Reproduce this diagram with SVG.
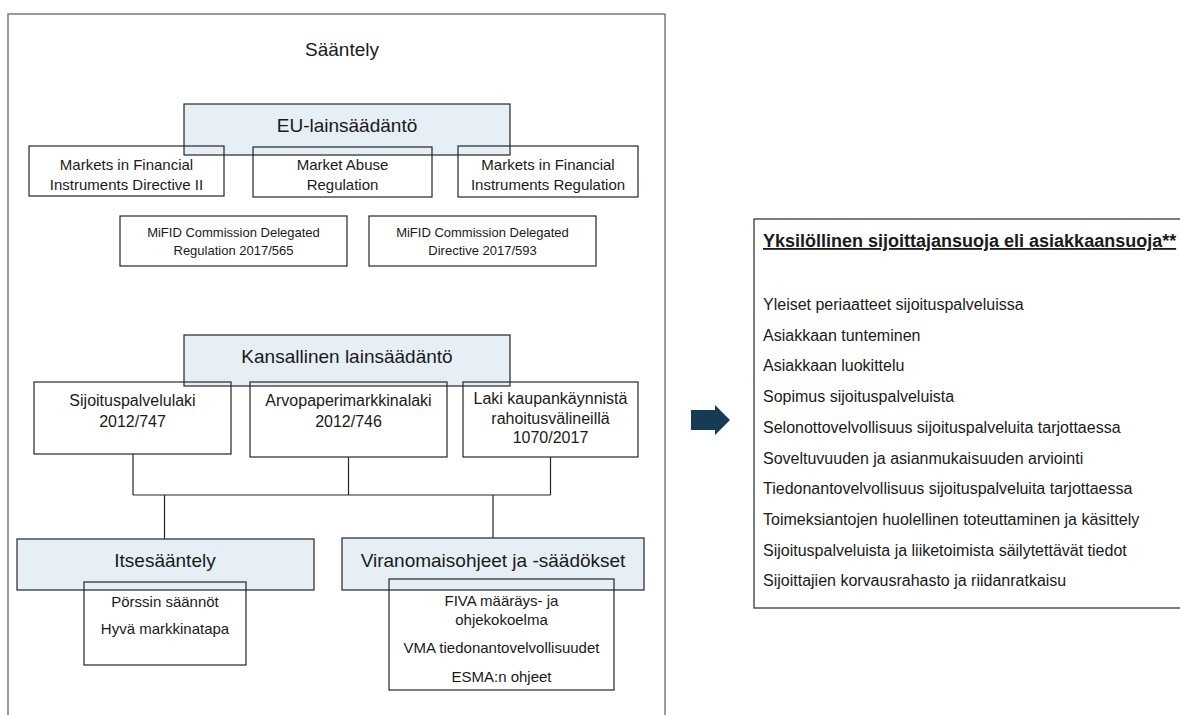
<svg xmlns="http://www.w3.org/2000/svg" width="1180" height="715" viewBox="0 0 1180 715">
  <style>
    text { font-family: "Liberation Sans", Arial, sans-serif; fill: #1a1a1a; }
    .frame { fill: #ffffff; stroke: #7a7a7a; stroke-width: 1.5; }
    .box { fill: none; stroke: #262626; stroke-width: 1.2; }
    .head { fill: #e6eef6; stroke: #262626; stroke-width: 1.2; }
    .wire { fill: none; stroke: #262626; stroke-width: 1.2; }
    .h1 { font-size: 19px; text-anchor: middle; }
    .t15 { font-size: 15px; text-anchor: middle; }
    .t13 { font-size: 13px; text-anchor: middle; }
    .t16 { font-size: 16px; text-anchor: middle; }
    .sub { font-size: 15px; text-anchor: middle; }
    .list { font-size: 16px; }
    .title { font-size: 18px; font-weight: bold; text-decoration: underline; }
  </style>

  <rect width="1180" height="715" fill="#ffffff"/>

  <!-- outer regulation frame -->
  <g id="saantely">
    <rect class="frame" x="8" y="14" width="657" height="720"/>
    <text class="h1" x="342" y="56">Sääntely</text>
  </g>

  <!-- EU legislation -->
  <g id="eu">
    <rect class="head" x="184" y="104" width="326" height="51"/>
    <text class="h1" x="347" y="132">EU-lainsäädäntö</text>
  </g>
  <g id="mifid2">
    <rect class="box" x="29" y="146" width="195" height="50"/>
    <text class="t15" x="126.5" y="170">Markets in Financial</text>
    <text class="t15" x="126.5" y="190">Instruments Directive II</text>
  </g>
  <g id="mar">
    <rect class="box" x="253" y="147" width="179" height="50"/>
    <text class="t15" x="342.5" y="170">Market Abuse</text>
    <text class="t15" x="342.5" y="190">Regulation</text>
  </g>
  <g id="mifir">
    <rect class="box" x="458" y="146" width="180" height="51"/>
    <text class="t15" x="548" y="170">Markets in Financial</text>
    <text class="t15" x="548" y="190">Instruments Regulation</text>
  </g>
  <g id="reg565">
    <rect class="box" x="120" y="216" width="227" height="50"/>
    <text class="t13" x="233.5" y="237">MiFID Commission Delegated</text>
    <text class="t13" x="233.5" y="255">Regulation 2017/565</text>
  </g>
  <g id="dir593">
    <rect class="box" x="369" y="216" width="227" height="50"/>
    <text class="t13" x="482.5" y="237">MiFID Commission Delegated</text>
    <text class="t13" x="482.5" y="255">Directive 2017/593</text>
  </g>

  <!-- national legislation -->
  <g id="kansallinen">
    <rect class="head" x="184" y="335" width="326" height="51"/>
    <text class="h1" x="347" y="363">Kansallinen lainsäädäntö</text>
  </g>
  <g id="spl">
    <rect class="box" x="34" y="382" width="197" height="72"/>
    <text class="t16" x="132.5" y="406">Sijoituspalvelulaki</text>
    <text class="t16" x="132.5" y="427">2012/747</text>
  </g>
  <g id="apml">
    <rect class="box" x="250" y="382" width="197" height="75"/>
    <text class="t16" x="348.5" y="406">Arvopaperimarkkinalaki</text>
    <text class="t16" x="348.5" y="427">2012/746</text>
  </g>
  <g id="laki">
    <rect class="box" x="463" y="382" width="175" height="75"/>
    <text class="t16" x="550.5" y="404">Laki kaupankäynnistä</text>
    <text class="t16" x="550.5" y="423.5">rahoitusvälineillä</text>
    <text class="t16" x="550.5" y="443">1070/2017</text>
  </g>

  <!-- connectors -->
  <g id="connectors">
    <path class="wire" d="M133 454 V495 M348.5 457 V495 M550.5 457 V495 M133 495 H550.5"/>
    <path class="wire" d="M164.5 495 V539 M493 495 V538"/>
  </g>

  <!-- self-regulation -->
  <g id="itsesaantely">
    <rect class="head" x="17" y="539" width="297" height="51"/>
    <text class="h1" x="165" y="567">Itsesääntely</text>
    <rect class="box" x="84" y="582" width="162" height="83"/>
    <text class="sub" x="165" y="607">Pörssin säännöt</text>
    <text class="sub" x="165" y="634">Hyvä markkinatapa</text>
  </g>

  <!-- authority guidance -->
  <g id="viranomais">
    <rect class="head" x="342" y="538" width="302" height="52"/>
    <text class="h1" x="493" y="567">Viranomaisohjeet ja -säädökset</text>
    <rect class="box" x="389" y="579" width="225" height="111"/>
    <text class="sub" x="501.5" y="606">FIVA määräys- ja</text>
    <text class="sub" x="501.5" y="625">ohjekokoelma</text>
    <text class="sub" x="501.5" y="653">VMA tiedonantovelvollisuudet</text>
    <text class="sub" x="501.5" y="682">ESMA:n ohjeet</text>
  </g>

  <!-- arrow to investor protection -->
  <g id="arrow">
    <polygon points="691,410 715,410 715,405 730,420 715,435 715,430 691,430" fill="#173a55"/>
  </g>

  <!-- investor protection list -->
  <g id="asiakkaansuoja">
    <rect class="box" x="754" y="219" width="440" height="389"/>
    <text class="title" x="763" y="247">Yksilöllinen sijoittajansuoja eli asiakkaansuoja**</text>
    <text class="list" x="763" y="310">Yleiset periaatteet sijoituspalveluissa</text>
    <text class="list" x="763" y="340.7">Asiakkaan tunteminen</text>
    <text class="list" x="763" y="371.4">Asiakkaan luokittelu</text>
    <text class="list" x="763" y="402">Sopimus sijoituspalveluista</text>
    <text class="list" x="763" y="432.8">Selonottovelvollisuus sijoituspalveluita tarjottaessa</text>
    <text class="list" x="763" y="463.5">Soveltuvuuden ja asianmukaisuuden arviointi</text>
    <text class="list" x="763" y="494">Tiedonantovelvollisuus sijoituspalveluita tarjottaessa</text>
    <text class="list" x="763" y="525">Toimeksiantojen huolellinen toteuttaminen ja käsittely</text>
    <text class="list" x="763" y="555.6">Sijoituspalveluista ja liiketoimista säilytettävät tiedot</text>
    <text class="list" x="763" y="586">Sijoittajien korvausrahasto ja riidanratkaisu</text>
  </g>
</svg>
